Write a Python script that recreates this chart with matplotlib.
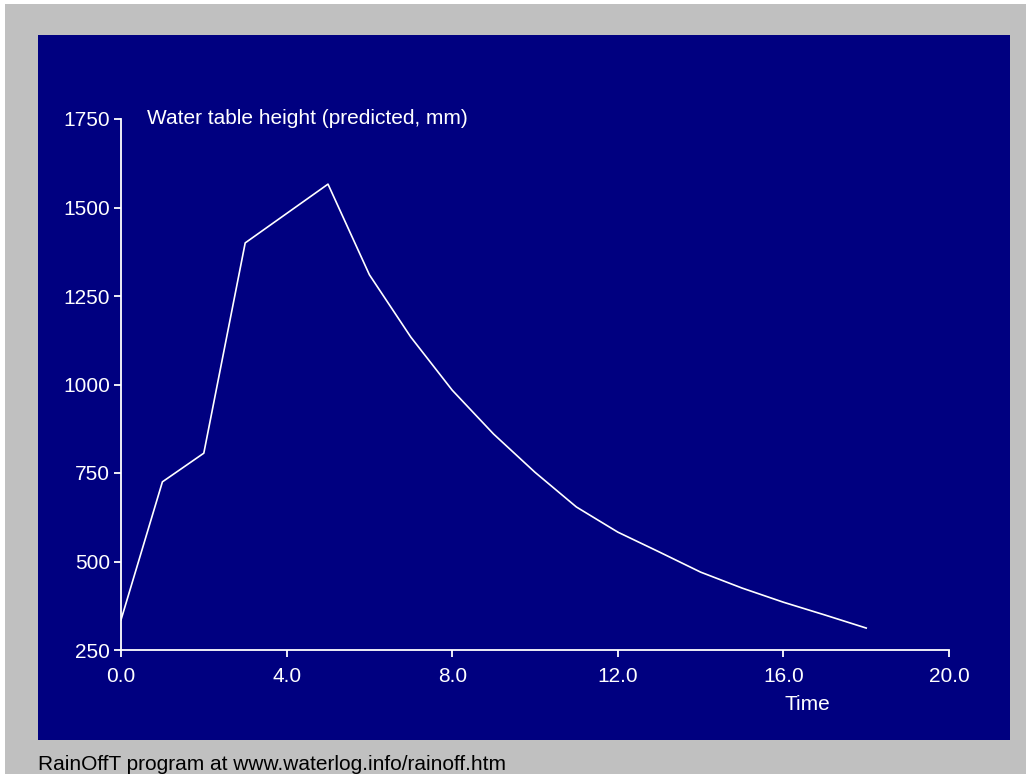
import matplotlib.pyplot as plt
from matplotlib.patches import Rectangle

# hourly predicted water table height (mm)
time = [0, 1, 2, 3, 4, 5, 6, 7, 8, 9, 10, 11, 12, 13, 14, 15, 16, 17, 18]
height = [335, 725, 806, 1400, 1483, 1566, 1310, 1134, 984, 860, 752,
          654, 583, 527, 470, 425, 385, 349, 312]

x_ticks = [0, 4, 8, 12, 16, 20]
y_ticks = [250, 500, 750, 1000, 1250, 1500, 1750]

navy = '#000080'
grey = '#C0C0C0'
fs = 15

plt.rcParams['font.family'] = ['Liberation Sans', 'DejaVu Sans']

fig = plt.figure(figsize=(10.26, 7.74), dpi=100, facecolor=grey)
W, H = 1026, 774

# thin white strips at top and left, as in the screenshot
fig.patches.append(Rectangle((0, (H - 4) / H), 1, 4 / H, transform=fig.transFigure,
                             facecolor='white', edgecolor='none', zorder=0))
fig.patches.append(Rectangle((0, 0), 5 / W, 1, transform=fig.transFigure,
                             facecolor='white', edgecolor='none', zorder=0))

# navy panel behind the plot
fig.patches.append(Rectangle((38 / W, (H - 740) / H), (1010 - 38) / W, (740 - 35) / H,
                             transform=fig.transFigure, facecolor=navy,
                             edgecolor='none', zorder=0))

ax = fig.add_axes([121 / W, (H - 650) / H, (949 - 121) / W, (650 - 119) / H])
ax.set_zorder(2)
ax.set_facecolor(navy)
ax.plot(time, height, color='white', lw=1.2)

ax.set_xlim(0, 20)
ax.set_ylim(250, 1750)
ax.set_xticks(x_ticks)
ax.set_xticklabels(['{:.1f}'.format(t) for t in x_ticks])
ax.set_yticks(y_ticks)
for s in ['top', 'right']:
    ax.spines[s].set_visible(False)
for s in ['left', 'bottom']:
    ax.spines[s].set_color('white')
    ax.spines[s].set_linewidth(1.3)
ax.tick_params(colors='white', labelsize=fs, length=5, width=1.3)
ax.tick_params(axis='x', pad=7)
ax.tick_params(axis='y', pad=3)

ax.text(0.63, 1750, 'Water table height (predicted, mm)', color='white',
        fontsize=fs, ha='left', va='center')
fig.text(807 / W, (H - 705) / H, 'Time', color='white', fontsize=fs,
         ha='center', va='center', zorder=3)
fig.text(38 / W, (H - 764) / H, 'RainOffT program at www.waterlog.info/rainoff.htm',
         color='black', fontsize=fs, ha='left', va='center')

fig.savefig('out.png', dpi=100, facecolor=grey)
